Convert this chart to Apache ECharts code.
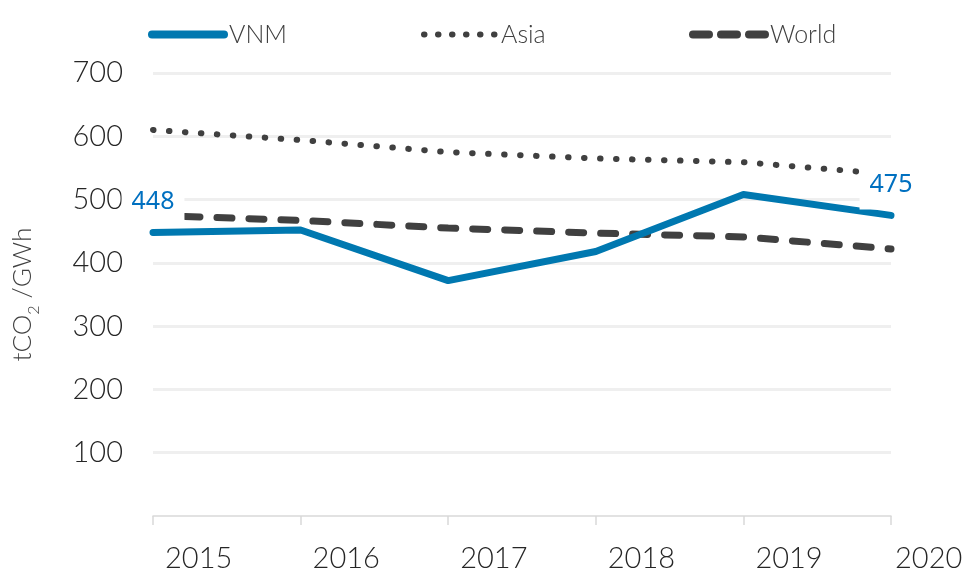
<!DOCTYPE html>
<html>
<head>
<meta charset="utf-8">
<script src="https://cdn.jsdelivr.net/npm/echarts@6/dist/echarts.min.js"></script>
<style>html,body{margin:0;padding:0;background:#fff;}#c{width:969px;height:569px;}</style>
</head>
<body>
<div id="c"></div>
<script>
var years = ['2015', '2016', '2017', '2018', '2019', '2020'];
var vnm = [448, 452, 372, 418, 508, 475];
var asia = [610, 594, 575, 565, 559, 540];
var world = [475, 467, 455, 447, 441, 422];
var yTicks = [0, 100, 200, 300, 400, 500, 600, 700];
var labelled = [0, 5]; // indices of VNM points carrying a value label

var FONT = 'Lato';
var chart = echarts.init(document.getElementById('c'));
function leg(name, left, ls) {
  return {
    data: [name], left: left, top: 22, padding: 0, itemWidth: 72, itemHeight: 14, itemGap: 0,
    textStyle: { fontFamily: FONT, fontWeight: 300, fontSize: 25, color: '#404040' },
    itemStyle: { opacity: 0 },
    lineStyle: ls
  };
}
chart.setOption({
  animation: false,
  legend: [
    leg('VNM', 148, { width: 8, type: 'solid', cap: 'round' }),
    leg('Asia', 421, { width: 6, type: [0.5, 13.5], cap: 'round' }),
    leg('World', 689, { width: 8, type: [16, 12], cap: 'round' })
  ],
  grid: { left: 153, right: 78, top: 73, bottom: 53, containLabel: false, outerBoundsMode: 'none' },
  xAxis: {
    type: 'category', data: years.map(function (y, i) {
      return i === years.length - 1 ? { value: y, textStyle: { align: 'left', padding: [0, 0, 0, 4] } } : y;
    }),
    boundaryGap: false,
    axisLine: { show: true, lineStyle: { color: '#d9d9d9', width: 1.5 } },
    axisTick: { show: true, inside: false, length: 9, lineStyle: { color: '#d9d9d9', width: 1.5 } },
    axisLabel: { align: 'left', margin: 28, padding: [0, 0, 0, 12], fontFamily: FONT, fontWeight: 300, fontSize: 29, color: '#262626' },
    splitLine: { show: false }
  },
  yAxis: {
    type: 'value', min: yTicks[0], max: yTicks[yTicks.length - 1], interval: 100,
    axisLine: { show: false }, axisTick: { show: false },
    axisLabel: { margin: 30, showMinLabel: false, fontFamily: FONT, fontWeight: 300, fontSize: 29, color: '#262626' },
    splitLine: { show: true, showMinLine: false, lineStyle: { color: '#efefef', width: 3 } },
    name: '{a|tCO}{s|2}{a| /GWh}', nameLocation: 'middle', nameGap: 117, nameRotate: 90,
    nameTextStyle: {
      color: '#404040',
      rich: {
        a: { fontFamily: FONT, fontWeight: 300, fontSize: 26, color: '#404040', lineHeight: 30, verticalAlign: 'bottom' },
        s: { fontFamily: FONT, fontWeight: 300, fontSize: 16, color: '#404040', lineHeight: 30, verticalAlign: 'bottom', padding: [0, 0, -6, 0] }
      }
    }
  },
  series: [
    { name: 'VNM', type: 'line', data: vnm, symbol: 'none', z: 3,
      lineStyle: { color: '#0078B0', width: 7, cap: 'round', join: 'round' }, itemStyle: { color: '#0078B0' },
      markPoint: {
        symbol: 'rect', symbolSize: 0, animation: false,
        label: {
          show: true, position: 'top', distance: 6, formatter: '{c}',
          color: '#0070C0', fontFamily: 'Noto Sans', fontSize: 25,
          backgroundColor: '#fff', padding: [20, 10, 12, 10], lineHeight: 26
        },
        data: labelled.map(function (i) { return { coord: [i, vnm[i]], value: vnm[i] }; })
      }
    },
    { name: 'Asia', type: 'line', data: asia, symbol: 'none', z: 2,
      lineStyle: { color: '#404040', width: 6, type: [0.5, 15.5], cap: 'round' }, itemStyle: { color: '#404040' } },
    { name: 'World', type: 'line', data: world, symbol: 'none', z: 2,
      lineStyle: { color: '#404040', width: 7, type: [15, 17], cap: 'round' }, itemStyle: { color: '#404040' } }
  ]
});
</script>
</body>
</html>
